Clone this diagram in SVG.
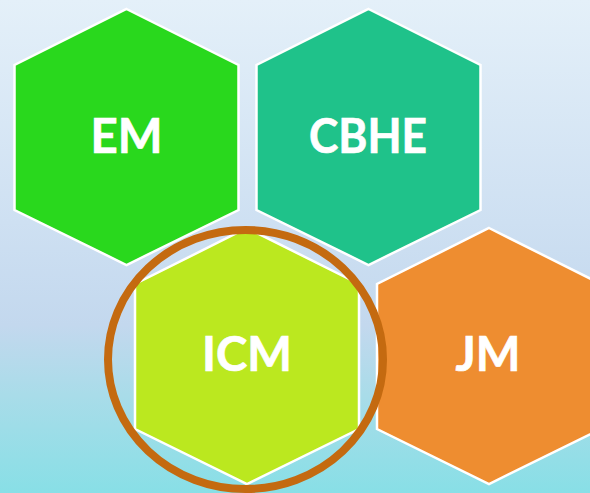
<svg xmlns="http://www.w3.org/2000/svg" width="590" height="493" viewBox="0 0 590 493">
<defs>
<linearGradient id="bg" x1="0" y1="0" x2="0" y2="1">
<stop offset="0" stop-color="#e4f0f9"/>
<stop offset="0.45" stop-color="#cee0f2"/>
<stop offset="0.66" stop-color="#c3d8ee"/>
<stop offset="0.8" stop-color="#a9dce9"/>
<stop offset="1" stop-color="#88dfe6"/>
</linearGradient>
</defs>
<style>
.hex{stroke:#fff;stroke-width:2.5}
.lbl{font-family:"Lato","Open Sans",sans-serif;font-weight:700;font-size:47.5px;fill:#fff;stroke:#fff;stroke-width:.7;text-anchor:middle}
</style>
<rect width="590" height="493" fill="url(#bg)"/>
<g id="node-em"><polygon class="hex" fill="#29d81d" points="126.500,9 238.500,65 238.500,210 126.500,265 14.500,210 14.500,65"/><text class="lbl" x="126.500" y="153" textLength="72" lengthAdjust="spacingAndGlyphs">EM</text></g>
<g id="node-cbhe"><polygon class="hex" fill="#1fc28a" points="368.500,9 480.500,65 480.500,210 368.500,265 256.500,210 256.500,65"/><text class="lbl" x="368" y="153" textLength="118" lengthAdjust="spacingAndGlyphs">CBHE</text></g>
<g id="node-icm"><polygon class="hex" fill="#bbe81f" points="247,228 359,284 359,429 247,484 135,429 135,284"/><text class="lbl" x="247" y="371" textLength="90" lengthAdjust="spacingAndGlyphs">ICM</text></g>
<g id="node-jm"><polygon class="hex" fill="#ee8d30" points="489,228 601,284 601,429 489,484 377,429 377,284"/><text class="lbl" x="488" y="371" textLength="65" lengthAdjust="spacingAndGlyphs">JM</text></g>
<g id="connectors"></g>
<ellipse id="highlight" cx="245.500" cy="359.500" rx="137.500" ry="129.500" fill="none" stroke="#c46a10" stroke-width="8"/>
</svg>
